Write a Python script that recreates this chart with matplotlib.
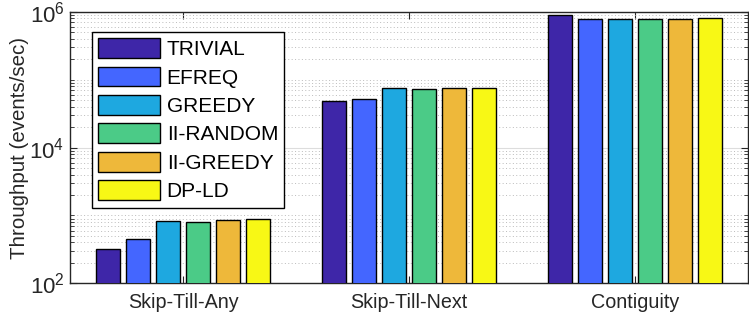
import matplotlib.pyplot as plt
import matplotlib.ticker as mticker
import numpy as np

plt.rcParams['font.family'] = ['Liberation Sans', 'DejaVu Sans']
plt.rcParams['mathtext.fontset'] = 'custom'
plt.rcParams['mathtext.rm'] = 'Liberation Sans'

groups = ['Skip-Till-Any', 'Skip-Till-Next', 'Contiguity']
methods = ['TRIVIAL', 'EFREQ', 'GREEDY', 'II-RANDOM', 'II-GREEDY', 'DP-LD']
colors = ['#3E26A8', '#4466FF', '#1EA8E0', '#4BCB87', '#EEB83A', '#F8F815']

# throughput (events/sec), one list per method over the three groups
trivial = [316, 48400, 885000]
efreq = [444, 52300, 773000]
greedy = [815, 76000, 773000]
ii_random = [790, 73400, 773000]
ii_greedy = [845, 76000, 773000]
dp_ld = [895, 76000, 800000]
values = [trivial, efreq, greedy, ii_random, ii_greedy, dp_ld]

fig = plt.figure(figsize=(7.49, 3.18), dpi=100)
ax = fig.add_axes([0.0935, 0.109, 0.9055, 0.854])

x = np.arange(1, len(groups) + 1)
pitch = 0.133
width = 0.106
for i, (name, vals, c) in enumerate(zip(methods, values, colors)):
    ax.bar(x + (i - 2.5) * pitch, vals, width, color=c, edgecolor='black',
           linewidth=1.0, label=name, zorder=3)

ax.set_yscale('log')
ax.set_ylim(1e2, 1e6)
ax.set_xlim(0.5, 3.5)
ax.yaxis.set_major_locator(mticker.FixedLocator([1e2, 1e4, 1e6]))
ax.yaxis.set_major_formatter(mticker.FuncFormatter(lambda v, p: r'$10^{%d}$' % round(np.log10(v))))
minor = [m * 10 ** d for d in range(2, 6) for m in range(2, 10)] + [1e3, 1e5]
ax.yaxis.set_minor_locator(mticker.FixedLocator(minor))
ax.yaxis.set_minor_formatter(mticker.NullFormatter())
ax.set_xticks(x)
ax.set_xticklabels(groups)

ax.grid(True, which='major', axis='y', color='#DDDDDD', linewidth=0.8, zorder=0)
ax.grid(True, which='minor', axis='y', color='#BBBBBB', linestyle=(0, (1, 2.5)), linewidth=0.7, zorder=0)
ax.tick_params(axis='both', which='both', direction='in', top=True, right=True,
               colors='#262626', labelsize=16)
ax.tick_params(axis='y', which='major', length=5, pad=4)
ax.tick_params(axis='y', which='minor', length=3)
ax.tick_params(axis='x', which='major', length=5, labelsize=14.2, pad=7)
for s in ax.spines.values():
    s.set_color('#262626')
    s.set_linewidth(1.0)

ax.set_ylabel('Throughput (events/sec)', fontsize=14.8, color='#262626', labelpad=0)

leg = ax.legend(loc='upper left', bbox_to_anchor=(0.032, 0.926), fontsize=15,
                handlelength=3.0, handleheight=1.08, labelspacing=0.36,
                handletextpad=0.3, borderpad=0.3, fancybox=False, framealpha=1,
                edgecolor='black', borderaxespad=0)
leg.get_frame().set_linewidth(1.0)

fig.savefig('out.png', dpi=100)
